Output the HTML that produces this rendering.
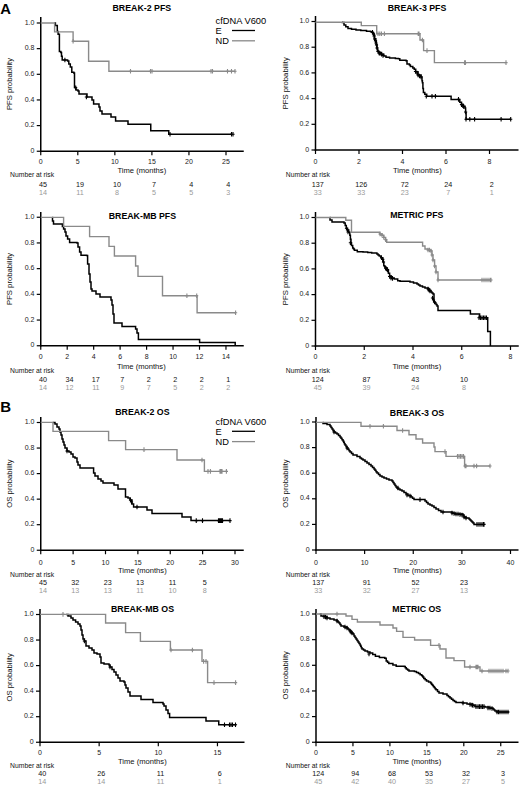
<!DOCTYPE html>
<html><head><meta charset="utf-8"><style>
html,body{margin:0;padding:0;background:#fff;}
svg{display:block;}
text{font-family:"Liberation Sans", sans-serif;}
</style></head><body>
<svg width="520" height="786" viewBox="0 0 520 786">
<rect width="520" height="786" fill="#fff"/>
<line x1="40.75" y1="17.00" x2="40.75" y2="152.00" stroke="#000" stroke-width="1.5"/>
<line x1="36.75" y1="151.25" x2="40.75" y2="151.25" stroke="#000" stroke-width="1.2"/>
<text x="34.45" y="152.87" font-size="7" text-anchor="end" font-weight="normal" fill="#222" >0</text>
<line x1="36.75" y1="125.60" x2="40.75" y2="125.60" stroke="#000" stroke-width="1.2"/>
<text x="34.45" y="127.22" font-size="7" text-anchor="end" font-weight="normal" fill="#222" >0.2</text>
<line x1="36.75" y1="99.95" x2="40.75" y2="99.95" stroke="#000" stroke-width="1.2"/>
<text x="34.45" y="101.57" font-size="7" text-anchor="end" font-weight="normal" fill="#222" >0.4</text>
<line x1="36.75" y1="74.30" x2="40.75" y2="74.30" stroke="#000" stroke-width="1.2"/>
<text x="34.45" y="75.92" font-size="7" text-anchor="end" font-weight="normal" fill="#222" >0.6</text>
<line x1="36.75" y1="48.65" x2="40.75" y2="48.65" stroke="#000" stroke-width="1.2"/>
<text x="34.45" y="50.27" font-size="7" text-anchor="end" font-weight="normal" fill="#222" >0.8</text>
<line x1="36.75" y1="23.00" x2="40.75" y2="23.00" stroke="#000" stroke-width="1.2"/>
<text x="34.45" y="24.62" font-size="7" text-anchor="end" font-weight="normal" fill="#222" >1.0</text>
<line x1="40.00" y1="151.25" x2="243.75" y2="151.25" stroke="#000" stroke-width="1.5"/>
<line x1="40.75" y1="151.25" x2="40.75" y2="155.25" stroke="#000" stroke-width="1.2"/>
<text x="40.75" y="163.82" font-size="7" text-anchor="middle" font-weight="normal" fill="#222" >0</text>
<line x1="77.80" y1="151.25" x2="77.80" y2="155.25" stroke="#000" stroke-width="1.2"/>
<text x="77.80" y="163.82" font-size="7" text-anchor="middle" font-weight="normal" fill="#222" >5</text>
<line x1="114.85" y1="151.25" x2="114.85" y2="155.25" stroke="#000" stroke-width="1.2"/>
<text x="114.85" y="163.82" font-size="7" text-anchor="middle" font-weight="normal" fill="#222" >10</text>
<line x1="151.90" y1="151.25" x2="151.90" y2="155.25" stroke="#000" stroke-width="1.2"/>
<text x="151.90" y="163.82" font-size="7" text-anchor="middle" font-weight="normal" fill="#222" >15</text>
<line x1="188.95" y1="151.25" x2="188.95" y2="155.25" stroke="#000" stroke-width="1.2"/>
<text x="188.95" y="163.82" font-size="7" text-anchor="middle" font-weight="normal" fill="#222" >20</text>
<line x1="226.00" y1="151.25" x2="226.00" y2="155.25" stroke="#000" stroke-width="1.2"/>
<text x="226.00" y="163.82" font-size="7" text-anchor="middle" font-weight="normal" fill="#222" >25</text>
<text x="117.50" y="173.44" font-size="7.6" text-anchor="start" font-weight="normal" fill="#111" >Time (months)</text>
<text transform="translate(9.30,84.00) rotate(-90)" x="0" y="2.77" font-size="7.7" text-anchor="middle" fill="#111">PFS probability</text>
<text x="141.80" y="11.17" font-size="8.8" text-anchor="middle" font-weight="bold" fill="#000" >BREAK-2 PFS</text>
<text x="10.10" y="176.94" font-size="6.78" text-anchor="start" font-weight="normal" fill="#111" >Number at risk</text>
<text x="42.95" y="187.09" font-size="7.2" text-anchor="middle" font-weight="normal" fill="#111" >45</text>
<text x="42.95" y="195.09" font-size="7.2" text-anchor="middle" font-weight="normal" fill="#999" >14</text>
<text x="80.00" y="187.09" font-size="7.2" text-anchor="middle" font-weight="normal" fill="#111" >19</text>
<text x="80.00" y="195.09" font-size="7.2" text-anchor="middle" font-weight="normal" fill="#999" >11</text>
<text x="117.05" y="187.09" font-size="7.2" text-anchor="middle" font-weight="normal" fill="#111" >10</text>
<text x="117.05" y="195.09" font-size="7.2" text-anchor="middle" font-weight="normal" fill="#999" >8</text>
<text x="154.10" y="187.09" font-size="7.2" text-anchor="middle" font-weight="normal" fill="#111" >7</text>
<text x="154.10" y="195.09" font-size="7.2" text-anchor="middle" font-weight="normal" fill="#999" >5</text>
<text x="191.15" y="187.09" font-size="7.2" text-anchor="middle" font-weight="normal" fill="#111" >4</text>
<text x="191.15" y="195.09" font-size="7.2" text-anchor="middle" font-weight="normal" fill="#999" >5</text>
<text x="228.20" y="187.09" font-size="7.2" text-anchor="middle" font-weight="normal" fill="#111" >4</text>
<text x="228.20" y="195.09" font-size="7.2" text-anchor="middle" font-weight="normal" fill="#999" >3</text>
<path d="M54.30 23.00H55.40V25.40H57.30V31.50H58.10V34.20H59.40V51.50H60.80V52.50H61.50V56.20H62.20V60.00H67.60V61.00H68.80V64.00H70.30V67.00H71.80V72.30H73.80V73.00H74.50V87.50H76.00V90.00H78.00V91.00H79.00V94.00H87.00V97.00H92.00V100.00H93.60V104.00H98.00V104.00H99.00V107.00H100.00V111.00H102.00V114.00H111.00V117.00H115.60V121.00H128.00V124.25H150.75V130.75H168.75V134.25H232.50V134.25" fill="none" stroke="#000" stroke-width="1.5" stroke-linejoin="miter" stroke-linecap="butt"/>
<path d="M64.90 57.70V62.30M63.30 60.00H66.50M75.70 85.40V90.00M74.10 87.70H77.30M86.40 94.70V99.30M84.80 97.00H88.00M170.00 131.95V136.55M168.40 134.25H171.60M231.50 131.95V136.55M229.90 134.25H233.10M233.00 131.95V136.55M231.40 134.25H234.60" fill="none" stroke="#000" stroke-width="1.1"/>
<path d="M40.75 23.00H54.60V31.90H73.10V41.30H88.60V61.20H108.90V71.20H235.00V71.20" fill="none" stroke="#8a8a8a" stroke-width="1.4" stroke-linejoin="miter" stroke-linecap="butt"/>
<path d="M73.10 39.00V43.60M71.50 41.30H74.70M130.50 68.90V73.50M128.90 71.20H132.10M150.50 68.90V73.50M148.90 71.20H152.10M152.00 68.90V73.50M150.40 71.20H153.60M211.00 68.90V73.50M209.40 71.20H212.60M212.50 68.90V73.50M210.90 71.20H214.10M227.50 68.90V73.50M225.90 71.20H229.10M231.50 68.90V73.50M229.90 71.20H233.10M235.00 68.90V73.50M233.40 71.20H236.60" fill="none" stroke="#8a8a8a" stroke-width="1.1"/>
<line x1="315.50" y1="16.00" x2="315.50" y2="150.75" stroke="#000" stroke-width="1.5"/>
<line x1="311.50" y1="150.00" x2="315.50" y2="150.00" stroke="#000" stroke-width="1.2"/>
<text x="309.20" y="151.62" font-size="7" text-anchor="end" font-weight="normal" fill="#222" >0</text>
<line x1="311.50" y1="124.30" x2="315.50" y2="124.30" stroke="#000" stroke-width="1.2"/>
<text x="309.20" y="125.92" font-size="7" text-anchor="end" font-weight="normal" fill="#222" >0.2</text>
<line x1="311.50" y1="98.60" x2="315.50" y2="98.60" stroke="#000" stroke-width="1.2"/>
<text x="309.20" y="100.22" font-size="7" text-anchor="end" font-weight="normal" fill="#222" >0.4</text>
<line x1="311.50" y1="72.90" x2="315.50" y2="72.90" stroke="#000" stroke-width="1.2"/>
<text x="309.20" y="74.52" font-size="7" text-anchor="end" font-weight="normal" fill="#222" >0.6</text>
<line x1="311.50" y1="47.20" x2="315.50" y2="47.20" stroke="#000" stroke-width="1.2"/>
<text x="309.20" y="48.82" font-size="7" text-anchor="end" font-weight="normal" fill="#222" >0.8</text>
<line x1="311.50" y1="21.50" x2="315.50" y2="21.50" stroke="#000" stroke-width="1.2"/>
<text x="309.20" y="23.12" font-size="7" text-anchor="end" font-weight="normal" fill="#222" >1.0</text>
<line x1="314.75" y1="150.00" x2="518.50" y2="150.00" stroke="#000" stroke-width="1.5"/>
<line x1="315.50" y1="150.00" x2="315.50" y2="154.00" stroke="#000" stroke-width="1.2"/>
<text x="315.50" y="163.82" font-size="7" text-anchor="middle" font-weight="normal" fill="#222" >0</text>
<line x1="359.00" y1="150.00" x2="359.00" y2="154.00" stroke="#000" stroke-width="1.2"/>
<text x="359.00" y="163.82" font-size="7" text-anchor="middle" font-weight="normal" fill="#222" >2</text>
<line x1="402.50" y1="150.00" x2="402.50" y2="154.00" stroke="#000" stroke-width="1.2"/>
<text x="402.50" y="163.82" font-size="7" text-anchor="middle" font-weight="normal" fill="#222" >4</text>
<line x1="446.00" y1="150.00" x2="446.00" y2="154.00" stroke="#000" stroke-width="1.2"/>
<text x="446.00" y="163.82" font-size="7" text-anchor="middle" font-weight="normal" fill="#222" >6</text>
<line x1="489.50" y1="150.00" x2="489.50" y2="154.00" stroke="#000" stroke-width="1.2"/>
<text x="489.50" y="163.82" font-size="7" text-anchor="middle" font-weight="normal" fill="#222" >8</text>
<text x="393.00" y="173.04" font-size="7.6" text-anchor="start" font-weight="normal" fill="#111" >Time (months)</text>
<text transform="translate(285.50,83.30) rotate(-90)" x="0" y="2.77" font-size="7.7" text-anchor="middle" fill="#111">PFS probability</text>
<text x="417.00" y="11.37" font-size="8.8" text-anchor="middle" font-weight="bold" fill="#000" >BREAK-3 PFS</text>
<text x="285.85" y="176.94" font-size="6.78" text-anchor="start" font-weight="normal" fill="#111" >Number at risk</text>
<text x="317.70" y="187.09" font-size="7.2" text-anchor="middle" font-weight="normal" fill="#111" >137</text>
<text x="317.70" y="195.09" font-size="7.2" text-anchor="middle" font-weight="normal" fill="#999" >33</text>
<text x="361.20" y="187.09" font-size="7.2" text-anchor="middle" font-weight="normal" fill="#111" >126</text>
<text x="361.20" y="195.09" font-size="7.2" text-anchor="middle" font-weight="normal" fill="#999" >33</text>
<text x="404.70" y="187.09" font-size="7.2" text-anchor="middle" font-weight="normal" fill="#111" >72</text>
<text x="404.70" y="195.09" font-size="7.2" text-anchor="middle" font-weight="normal" fill="#999" >23</text>
<text x="448.20" y="187.09" font-size="7.2" text-anchor="middle" font-weight="normal" fill="#111" >24</text>
<text x="448.20" y="195.09" font-size="7.2" text-anchor="middle" font-weight="normal" fill="#999" >7</text>
<text x="491.70" y="187.09" font-size="7.2" text-anchor="middle" font-weight="normal" fill="#111" >2</text>
<text x="491.70" y="195.09" font-size="7.2" text-anchor="middle" font-weight="normal" fill="#999" >1</text>
<path d="M342.00 22.20H342.30V22.60H344.00V24.90H345.80V26.70H348.00V28.40H351.50V29.30H356.00V29.90H360.80V30.50H366.50V31.30H370.60V31.80H372.30V32.40H373.40V33.60H374.00V35.30H374.60V38.80H375.80V41.00H376.30V44.50H377.00V48.00H377.50V50.90H378.60V52.60H381.50V54.30H383.80V56.00H386.00V57.20H389.60V58.10H395.40V58.60H398.40V58.70H399.80V60.20H406.00V60.70H407.00V64.00H409.40V65.00H410.40V66.40H412.80V67.90H414.20V69.30H415.70V71.70H418.00V75.00H421.00V77.00H422.00V80.80H422.40V82.80H422.90V88.50H423.40V92.40H424.80V94.30H426.70V96.30H451.10V99.40H459.80V102.30H461.50V104.60H463.30V106.30H465.00V108.00H465.60V112.70H466.10V119.20H511.00V119.20" fill="none" stroke="#000" stroke-width="1.5" stroke-linejoin="miter" stroke-linecap="butt"/>
<path d="M372.50 30.10V34.70M370.90 32.40H374.10M373.50 31.70V36.30M371.90 34.00H375.10M374.00 33.70V38.30M372.40 36.00H375.60M374.60 36.70V41.30M373.00 39.00H376.20M375.50 38.70V43.30M373.90 41.00H377.10M376.00 40.70V45.30M374.40 43.00H377.60M376.50 42.70V47.30M374.90 45.00H378.10M377.00 45.70V50.30M375.40 48.00H378.60M378.00 49.20V53.80M376.40 51.50H379.60M379.00 50.70V55.30M377.40 53.00H380.60M380.00 51.20V55.80M378.40 53.50H381.60M381.50 52.00V56.60M379.90 54.30H383.10M383.00 53.20V57.80M381.40 55.50H384.60M415.50 69.20V73.80M413.90 71.50H417.10M417.00 70.70V75.30M415.40 73.00H418.60M418.00 72.70V77.30M416.40 75.00H419.60M419.50 73.70V78.30M417.90 76.00H421.10M421.00 74.70V79.30M419.40 77.00H422.60M426.30 94.00V98.60M424.70 96.30H427.90M432.00 94.00V98.60M430.40 96.30H433.60M435.40 94.00V98.60M433.80 96.30H437.00M458.50 97.10V101.70M456.90 99.40H460.10M461.50 102.30V106.90M459.90 104.60H463.10M462.80 103.50V108.10M461.20 105.80H464.40M463.80 104.50V109.10M462.20 106.80H465.40M465.60 109.70V114.30M464.00 112.00H467.20M466.00 116.90V121.50M464.40 119.20H467.60M469.80 116.90V121.50M468.20 119.20H471.40M474.60 116.90V121.50M473.00 119.20H476.20M501.10 116.90V121.50M499.50 119.20H502.70M510.70 116.90V121.50M509.10 119.20H512.30" fill="none" stroke="#000" stroke-width="1.1"/>
<path d="M315.50 22.20H361.30V25.60H376.70V33.80H420.00V40.00H423.60V50.60H434.40V62.60H506.00V62.60" fill="none" stroke="#8a8a8a" stroke-width="1.4" stroke-linejoin="miter" stroke-linecap="butt"/>
<path d="M378.00 31.50V36.10M376.40 33.80H379.60M379.80 31.50V36.10M378.20 33.80H381.40M381.50 31.50V36.10M379.90 33.80H383.10M384.40 31.50V36.10M382.80 33.80H386.00M418.20 31.50V36.10M416.60 33.80H419.80M419.00 31.50V36.10M417.40 33.80H420.60M422.40 37.70V42.30M420.80 40.00H424.00M427.00 48.30V52.90M425.40 50.60H428.60M464.60 60.30V64.90M463.00 62.60H466.20M465.40 60.30V64.90M463.80 62.60H467.00M506.00 60.30V64.90M504.40 62.60H507.60" fill="none" stroke="#8a8a8a" stroke-width="1.1"/>
<line x1="40.75" y1="212.00" x2="40.75" y2="346.50" stroke="#000" stroke-width="1.5"/>
<line x1="36.75" y1="345.75" x2="40.75" y2="345.75" stroke="#000" stroke-width="1.2"/>
<text x="34.45" y="347.37" font-size="7" text-anchor="end" font-weight="normal" fill="#222" >0</text>
<line x1="36.75" y1="320.05" x2="40.75" y2="320.05" stroke="#000" stroke-width="1.2"/>
<text x="34.45" y="321.67" font-size="7" text-anchor="end" font-weight="normal" fill="#222" >0.2</text>
<line x1="36.75" y1="294.35" x2="40.75" y2="294.35" stroke="#000" stroke-width="1.2"/>
<text x="34.45" y="295.97" font-size="7" text-anchor="end" font-weight="normal" fill="#222" >0.4</text>
<line x1="36.75" y1="268.65" x2="40.75" y2="268.65" stroke="#000" stroke-width="1.2"/>
<text x="34.45" y="270.27" font-size="7" text-anchor="end" font-weight="normal" fill="#222" >0.6</text>
<line x1="36.75" y1="242.95" x2="40.75" y2="242.95" stroke="#000" stroke-width="1.2"/>
<text x="34.45" y="244.57" font-size="7" text-anchor="end" font-weight="normal" fill="#222" >0.8</text>
<line x1="36.75" y1="217.25" x2="40.75" y2="217.25" stroke="#000" stroke-width="1.2"/>
<text x="34.45" y="218.87" font-size="7" text-anchor="end" font-weight="normal" fill="#222" >1.0</text>
<line x1="40.00" y1="345.75" x2="243.75" y2="345.75" stroke="#000" stroke-width="1.5"/>
<line x1="40.75" y1="345.75" x2="40.75" y2="349.75" stroke="#000" stroke-width="1.2"/>
<text x="40.75" y="358.62" font-size="7" text-anchor="middle" font-weight="normal" fill="#222" >0</text>
<line x1="67.21" y1="345.75" x2="67.21" y2="349.75" stroke="#000" stroke-width="1.2"/>
<text x="67.21" y="358.62" font-size="7" text-anchor="middle" font-weight="normal" fill="#222" >2</text>
<line x1="93.67" y1="345.75" x2="93.67" y2="349.75" stroke="#000" stroke-width="1.2"/>
<text x="93.67" y="358.62" font-size="7" text-anchor="middle" font-weight="normal" fill="#222" >4</text>
<line x1="120.13" y1="345.75" x2="120.13" y2="349.75" stroke="#000" stroke-width="1.2"/>
<text x="120.13" y="358.62" font-size="7" text-anchor="middle" font-weight="normal" fill="#222" >6</text>
<line x1="146.59" y1="345.75" x2="146.59" y2="349.75" stroke="#000" stroke-width="1.2"/>
<text x="146.59" y="358.62" font-size="7" text-anchor="middle" font-weight="normal" fill="#222" >8</text>
<line x1="173.05" y1="345.75" x2="173.05" y2="349.75" stroke="#000" stroke-width="1.2"/>
<text x="173.05" y="358.62" font-size="7" text-anchor="middle" font-weight="normal" fill="#222" >10</text>
<line x1="199.51" y1="345.75" x2="199.51" y2="349.75" stroke="#000" stroke-width="1.2"/>
<text x="199.51" y="358.62" font-size="7" text-anchor="middle" font-weight="normal" fill="#222" >12</text>
<line x1="225.97" y1="345.75" x2="225.97" y2="349.75" stroke="#000" stroke-width="1.2"/>
<text x="225.97" y="358.62" font-size="7" text-anchor="middle" font-weight="normal" fill="#222" >14</text>
<text x="117.00" y="368.99" font-size="7.6" text-anchor="start" font-weight="normal" fill="#111" >Time (months)</text>
<text transform="translate(9.20,278.90) rotate(-90)" x="0" y="2.77" font-size="7.7" text-anchor="middle" fill="#111">PFS probability</text>
<text x="142.40" y="218.57" font-size="8.8" text-anchor="middle" font-weight="bold" fill="#000" >BREAK-MB PFS</text>
<text x="10.10" y="373.04" font-size="6.78" text-anchor="start" font-weight="normal" fill="#111" >Number at risk</text>
<text x="42.95" y="381.59" font-size="7.2" text-anchor="middle" font-weight="normal" fill="#111" >40</text>
<text x="42.95" y="389.89" font-size="7.2" text-anchor="middle" font-weight="normal" fill="#999" >14</text>
<text x="69.41" y="381.59" font-size="7.2" text-anchor="middle" font-weight="normal" fill="#111" >34</text>
<text x="69.41" y="389.89" font-size="7.2" text-anchor="middle" font-weight="normal" fill="#999" >12</text>
<text x="95.87" y="381.59" font-size="7.2" text-anchor="middle" font-weight="normal" fill="#111" >17</text>
<text x="95.87" y="389.89" font-size="7.2" text-anchor="middle" font-weight="normal" fill="#999" >11</text>
<text x="122.33" y="381.59" font-size="7.2" text-anchor="middle" font-weight="normal" fill="#111" >7</text>
<text x="122.33" y="389.89" font-size="7.2" text-anchor="middle" font-weight="normal" fill="#999" >9</text>
<text x="148.79" y="381.59" font-size="7.2" text-anchor="middle" font-weight="normal" fill="#111" >2</text>
<text x="148.79" y="389.89" font-size="7.2" text-anchor="middle" font-weight="normal" fill="#999" >7</text>
<text x="175.25" y="381.59" font-size="7.2" text-anchor="middle" font-weight="normal" fill="#111" >2</text>
<text x="175.25" y="389.89" font-size="7.2" text-anchor="middle" font-weight="normal" fill="#999" >5</text>
<text x="201.71" y="381.59" font-size="7.2" text-anchor="middle" font-weight="normal" fill="#111" >2</text>
<text x="201.71" y="389.89" font-size="7.2" text-anchor="middle" font-weight="normal" fill="#999" >2</text>
<text x="228.17" y="381.59" font-size="7.2" text-anchor="middle" font-weight="normal" fill="#111" >1</text>
<text x="228.17" y="389.89" font-size="7.2" text-anchor="middle" font-weight="normal" fill="#999" >2</text>
<path d="M52.20 217.40H52.50V221.00H53.50V224.00H62.40V226.50H63.60V229.00H65.00V232.00H66.00V236.00H67.60V239.00H69.60V242.50H77.00V243.00H78.00V247.00H79.60V252.00H81.00V255.30H86.60V255.50H87.60V264.00H89.00V274.00H90.00V282.00H91.00V289.00H92.00V291.00H96.00V294.00H100.00V297.00H111.00V300.00H112.00V305.00H113.00V314.00H114.00V323.00H122.00V326.40H134.00V326.40H135.60V329.00H137.00V333.00H138.40V339.60H199.60V342.50H235.20V345.75" fill="none" stroke="#000" stroke-width="1.5" stroke-linejoin="miter" stroke-linecap="butt"/>
<path d="M40.75 217.40H63.60V226.40H89.60V236.60H109.00V246.40H114.40V256.00H135.60V266.00H138.00V276.40H162.50V295.80H197.10V312.70H235.60V312.70" fill="none" stroke="#8a8a8a" stroke-width="1.4" stroke-linejoin="miter" stroke-linecap="butt"/>
<path d="M186.90 293.50V298.10M185.30 295.80H188.50M196.70 293.50V298.10M195.10 295.80H198.30M235.60 310.40V315.00M234.00 312.70H237.20" fill="none" stroke="#8a8a8a" stroke-width="1.1"/>
<line x1="315.50" y1="212.00" x2="315.50" y2="346.75" stroke="#000" stroke-width="1.5"/>
<line x1="311.50" y1="346.00" x2="315.50" y2="346.00" stroke="#000" stroke-width="1.2"/>
<text x="309.20" y="347.62" font-size="7" text-anchor="end" font-weight="normal" fill="#222" >0</text>
<line x1="311.50" y1="320.30" x2="315.50" y2="320.30" stroke="#000" stroke-width="1.2"/>
<text x="309.20" y="321.92" font-size="7" text-anchor="end" font-weight="normal" fill="#222" >0.2</text>
<line x1="311.50" y1="294.60" x2="315.50" y2="294.60" stroke="#000" stroke-width="1.2"/>
<text x="309.20" y="296.22" font-size="7" text-anchor="end" font-weight="normal" fill="#222" >0.4</text>
<line x1="311.50" y1="268.90" x2="315.50" y2="268.90" stroke="#000" stroke-width="1.2"/>
<text x="309.20" y="270.52" font-size="7" text-anchor="end" font-weight="normal" fill="#222" >0.6</text>
<line x1="311.50" y1="243.20" x2="315.50" y2="243.20" stroke="#000" stroke-width="1.2"/>
<text x="309.20" y="244.82" font-size="7" text-anchor="end" font-weight="normal" fill="#222" >0.8</text>
<line x1="311.50" y1="217.50" x2="315.50" y2="217.50" stroke="#000" stroke-width="1.2"/>
<text x="309.20" y="219.12" font-size="7" text-anchor="end" font-weight="normal" fill="#222" >1.0</text>
<line x1="314.75" y1="346.00" x2="518.75" y2="346.00" stroke="#000" stroke-width="1.5"/>
<line x1="315.50" y1="346.00" x2="315.50" y2="350.00" stroke="#000" stroke-width="1.2"/>
<text x="315.50" y="358.62" font-size="7" text-anchor="middle" font-weight="normal" fill="#222" >0</text>
<line x1="364.25" y1="346.00" x2="364.25" y2="350.00" stroke="#000" stroke-width="1.2"/>
<text x="364.25" y="358.62" font-size="7" text-anchor="middle" font-weight="normal" fill="#222" >2</text>
<line x1="413.00" y1="346.00" x2="413.00" y2="350.00" stroke="#000" stroke-width="1.2"/>
<text x="413.00" y="358.62" font-size="7" text-anchor="middle" font-weight="normal" fill="#222" >4</text>
<line x1="461.75" y1="346.00" x2="461.75" y2="350.00" stroke="#000" stroke-width="1.2"/>
<text x="461.75" y="358.62" font-size="7" text-anchor="middle" font-weight="normal" fill="#222" >6</text>
<line x1="510.50" y1="346.00" x2="510.50" y2="350.00" stroke="#000" stroke-width="1.2"/>
<text x="510.50" y="358.62" font-size="7" text-anchor="middle" font-weight="normal" fill="#222" >8</text>
<text x="392.50" y="368.99" font-size="7.6" text-anchor="start" font-weight="normal" fill="#111" >Time (months)</text>
<text transform="translate(285.50,279.10) rotate(-90)" x="0" y="2.77" font-size="7.7" text-anchor="middle" fill="#111">PFS probability</text>
<text x="416.80" y="218.17" font-size="8.8" text-anchor="middle" font-weight="bold" fill="#000" >METRIC PFS</text>
<text x="285.85" y="373.04" font-size="6.78" text-anchor="start" font-weight="normal" fill="#111" >Number at risk</text>
<text x="317.70" y="381.59" font-size="7.2" text-anchor="middle" font-weight="normal" fill="#111" >124</text>
<text x="317.70" y="389.89" font-size="7.2" text-anchor="middle" font-weight="normal" fill="#999" >45</text>
<text x="366.45" y="381.59" font-size="7.2" text-anchor="middle" font-weight="normal" fill="#111" >87</text>
<text x="366.45" y="389.89" font-size="7.2" text-anchor="middle" font-weight="normal" fill="#999" >39</text>
<text x="415.20" y="381.59" font-size="7.2" text-anchor="middle" font-weight="normal" fill="#111" >43</text>
<text x="415.20" y="389.89" font-size="7.2" text-anchor="middle" font-weight="normal" fill="#999" >24</text>
<text x="463.95" y="381.59" font-size="7.2" text-anchor="middle" font-weight="normal" fill="#111" >10</text>
<text x="463.95" y="389.89" font-size="7.2" text-anchor="middle" font-weight="normal" fill="#999" >8</text>
<path d="M329.70 217.50H330.00V220.00H332.00V221.90H344.00V223.10H345.20V225.40H346.30V228.30H347.50V230.00H348.70V232.30H349.80V235.20H350.40V239.20H351.00V242.70H351.50V245.60H352.70V247.90H353.55V249.05H354.40V250.20H357.30V251.70H363.00V251.90H367.70V252.50H371.70V253.10H376.90V254.00H378.05V255.00H379.20V256.00H380.90V257.70H382.70V259.40H383.30V262.30H383.80V265.70H384.70V266.90H385.60V268.10H387.30V269.80H388.40V273.20H389.60V276.10H391.30V277.90H394.20V279.00H397.70V280.70H400.00V281.30H410.00V282.00H413.50V283.00H417.00V284.00H418.50V285.00H420.00V286.00H422.50V287.00H425.00V288.00H428.00V289.00H429.50V290.50H431.00V292.00H432.00V293.00H433.00V294.00H434.00V302.00H435.00V303.00H436.00V304.50H437.00V306.00H438.00V310.40H470.40V314.00H479.60V317.70H487.70V331.50H490.40V346.00" fill="none" stroke="#000" stroke-width="1.5" stroke-linejoin="miter" stroke-linecap="butt"/>
<path d="M346.50 226.00V230.60M344.90 228.30H348.10M347.50 227.70V232.30M345.90 230.00H349.10M348.00 229.70V234.30M346.40 232.00H349.60M350.40 240.40V245.00M348.80 242.70H352.00M381.50 255.40V260.00M379.90 257.70H383.10M382.70 257.10V261.70M381.10 259.40H384.30M383.50 259.70V264.30M381.90 262.00H385.10M385.60 265.80V270.40M384.00 268.10H387.20M386.50 266.70V271.30M384.90 269.00H388.10M387.50 267.70V272.30M385.90 270.00H389.10M389.60 274.20V278.80M388.00 276.50H391.20M391.00 275.60V280.20M389.40 277.90H392.60M392.50 276.10V280.70M390.90 278.40H394.10M428.00 286.70V291.30M426.40 289.00H429.60M429.00 287.70V292.30M427.40 290.00H430.60M430.00 288.70V293.30M428.40 291.00H431.60M432.50 295.70V300.30M430.90 298.00H434.10M433.50 297.70V302.30M431.90 300.00H435.10M434.50 299.70V304.30M432.90 302.00H436.10M479.00 315.40V320.00M477.40 317.70H480.60M480.50 315.40V320.00M478.90 317.70H482.10M482.00 315.40V320.00M480.40 317.70H483.60M483.50 315.40V320.00M481.90 317.70H485.10M485.00 315.40V320.00M483.40 317.70H486.60M486.50 315.40V320.00M484.90 317.70H488.10" fill="none" stroke="#000" stroke-width="1.1"/>
<path d="M315.50 217.50H345.80V220.20H351.50V232.30H378.60V232.30H379.80V234.00H382.10V235.20H383.80V237.50H385.60V239.80H386.70V242.30H422.60V246.00H425.00V249.00H428.00V250.00H431.00V251.00H432.00V255.00H433.00V260.00H434.60V266.00H436.00V272.00H438.00V280.00H491.00V280.00" fill="none" stroke="#8a8a8a" stroke-width="1.4" stroke-linejoin="miter" stroke-linecap="butt"/>
<path d="M380.00 231.70V236.30M378.40 234.00H381.60M382.00 232.90V237.50M380.40 235.20H383.60M383.80 235.20V239.80M382.20 237.50H385.40M385.60 237.50V242.10M384.00 239.80H387.20M428.00 247.70V252.30M426.40 250.00H429.60M429.50 247.70V252.30M427.90 250.00H431.10M431.00 248.70V253.30M429.40 251.00H432.60M432.00 252.70V257.30M430.40 255.00H433.60M433.00 257.70V262.30M431.40 260.00H434.60M434.60 263.70V268.30M433.00 266.00H436.20M436.00 269.70V274.30M434.40 272.00H437.60M438.00 277.70V282.30M436.40 280.00H439.60M482.00 277.70V282.30M480.40 280.00H483.60M484.00 277.70V282.30M482.40 280.00H485.60M486.00 277.70V282.30M484.40 280.00H487.60M488.00 277.70V282.30M486.40 280.00H489.60M490.00 277.70V282.30M488.40 280.00H491.60M491.00 277.70V282.30M489.40 280.00H492.60" fill="none" stroke="#8a8a8a" stroke-width="1.1"/>
<line x1="40.75" y1="417.00" x2="40.75" y2="551.00" stroke="#000" stroke-width="1.5"/>
<line x1="36.75" y1="550.25" x2="40.75" y2="550.25" stroke="#000" stroke-width="1.2"/>
<text x="34.45" y="551.87" font-size="7" text-anchor="end" font-weight="normal" fill="#222" >0</text>
<line x1="36.75" y1="524.70" x2="40.75" y2="524.70" stroke="#000" stroke-width="1.2"/>
<text x="34.45" y="526.32" font-size="7" text-anchor="end" font-weight="normal" fill="#222" >0.2</text>
<line x1="36.75" y1="499.15" x2="40.75" y2="499.15" stroke="#000" stroke-width="1.2"/>
<text x="34.45" y="500.77" font-size="7" text-anchor="end" font-weight="normal" fill="#222" >0.4</text>
<line x1="36.75" y1="473.60" x2="40.75" y2="473.60" stroke="#000" stroke-width="1.2"/>
<text x="34.45" y="475.22" font-size="7" text-anchor="end" font-weight="normal" fill="#222" >0.6</text>
<line x1="36.75" y1="448.05" x2="40.75" y2="448.05" stroke="#000" stroke-width="1.2"/>
<text x="34.45" y="449.67" font-size="7" text-anchor="end" font-weight="normal" fill="#222" >0.8</text>
<line x1="36.75" y1="422.50" x2="40.75" y2="422.50" stroke="#000" stroke-width="1.2"/>
<text x="34.45" y="424.12" font-size="7" text-anchor="end" font-weight="normal" fill="#222" >1.0</text>
<line x1="40.00" y1="550.25" x2="243.75" y2="550.25" stroke="#000" stroke-width="1.5"/>
<line x1="40.75" y1="550.25" x2="40.75" y2="554.25" stroke="#000" stroke-width="1.2"/>
<text x="40.75" y="564.72" font-size="7" text-anchor="middle" font-weight="normal" fill="#222" >0</text>
<line x1="73.12" y1="550.25" x2="73.12" y2="554.25" stroke="#000" stroke-width="1.2"/>
<text x="73.12" y="564.72" font-size="7" text-anchor="middle" font-weight="normal" fill="#222" >5</text>
<line x1="105.50" y1="550.25" x2="105.50" y2="554.25" stroke="#000" stroke-width="1.2"/>
<text x="105.50" y="564.72" font-size="7" text-anchor="middle" font-weight="normal" fill="#222" >10</text>
<line x1="137.88" y1="550.25" x2="137.88" y2="554.25" stroke="#000" stroke-width="1.2"/>
<text x="137.88" y="564.72" font-size="7" text-anchor="middle" font-weight="normal" fill="#222" >15</text>
<line x1="170.25" y1="550.25" x2="170.25" y2="554.25" stroke="#000" stroke-width="1.2"/>
<text x="170.25" y="564.72" font-size="7" text-anchor="middle" font-weight="normal" fill="#222" >20</text>
<line x1="202.62" y1="550.25" x2="202.62" y2="554.25" stroke="#000" stroke-width="1.2"/>
<text x="202.62" y="564.72" font-size="7" text-anchor="middle" font-weight="normal" fill="#222" >25</text>
<line x1="235.00" y1="550.25" x2="235.00" y2="554.25" stroke="#000" stroke-width="1.2"/>
<text x="235.00" y="564.72" font-size="7" text-anchor="middle" font-weight="normal" fill="#222" >30</text>
<text x="118.00" y="572.74" font-size="7.6" text-anchor="start" font-weight="normal" fill="#111" >Time (months)</text>
<text transform="translate(9.20,483.50) rotate(-90)" x="0" y="2.77" font-size="7.7" text-anchor="middle" fill="#111">OS probability</text>
<text x="142.40" y="415.17" font-size="8.8" text-anchor="middle" font-weight="bold" fill="#000" >BREAK-2 OS</text>
<text x="10.10" y="577.04" font-size="6.78" text-anchor="start" font-weight="normal" fill="#111" >Number at risk</text>
<text x="42.95" y="585.09" font-size="7.2" text-anchor="middle" font-weight="normal" fill="#111" >45</text>
<text x="42.95" y="592.99" font-size="7.2" text-anchor="middle" font-weight="normal" fill="#999" >14</text>
<text x="75.33" y="585.09" font-size="7.2" text-anchor="middle" font-weight="normal" fill="#111" >32</text>
<text x="75.33" y="592.99" font-size="7.2" text-anchor="middle" font-weight="normal" fill="#999" >13</text>
<text x="107.70" y="585.09" font-size="7.2" text-anchor="middle" font-weight="normal" fill="#111" >23</text>
<text x="107.70" y="592.99" font-size="7.2" text-anchor="middle" font-weight="normal" fill="#999" >13</text>
<text x="140.07" y="585.09" font-size="7.2" text-anchor="middle" font-weight="normal" fill="#111" >13</text>
<text x="140.07" y="592.99" font-size="7.2" text-anchor="middle" font-weight="normal" fill="#999" >11</text>
<text x="172.45" y="585.09" font-size="7.2" text-anchor="middle" font-weight="normal" fill="#111" >11</text>
<text x="172.45" y="592.99" font-size="7.2" text-anchor="middle" font-weight="normal" fill="#999" >10</text>
<text x="204.82" y="585.09" font-size="7.2" text-anchor="middle" font-weight="normal" fill="#111" >5</text>
<text x="204.82" y="592.99" font-size="7.2" text-anchor="middle" font-weight="normal" fill="#999" >8</text>
<path d="M52.70 422.40H55.00V424.00H57.00V427.00H59.00V429.00H60.00V432.00H61.00V435.00H62.00V439.00H63.00V442.00H64.00V445.00H65.00V448.00H67.00V451.00H69.00V452.00H71.00V454.00H73.00V457.00H75.00V458.00H77.00V462.00H78.00V465.00H80.00V468.00H93.60V473.00H95.00V476.00H98.00V479.00H101.00V481.00H103.00V483.00H114.00V485.00H118.00V489.00H125.50V497.00H128.00V498.00H130.00V500.00H132.00V504.00H133.60V507.00H147.00V510.00H152.00V513.60H182.00V517.00H191.00V520.60H230.00V520.60" fill="none" stroke="#000" stroke-width="1.5" stroke-linejoin="miter" stroke-linecap="butt"/>
<path d="M67.00 448.70V453.30M65.40 451.00H68.60M130.50 497.70V502.30M128.90 500.00H132.10M131.50 499.70V504.30M129.90 502.00H133.10M137.00 504.70V509.30M135.40 507.00H138.60M196.25 518.30V522.90M194.65 520.60H197.85M202.50 518.30V522.90M200.90 520.60H204.10M218.50 518.30V522.90M216.90 520.60H220.10M219.50 518.30V522.90M217.90 520.60H221.10M220.50 518.30V522.90M218.90 520.60H222.10M221.50 518.30V522.90M219.90 520.60H223.10M222.50 518.30V522.90M220.90 520.60H224.10M230.00 518.30V522.90M228.40 520.60H231.60" fill="none" stroke="#000" stroke-width="1.1"/>
<path d="M40.75 422.40H53.00V431.40H108.60V440.60H125.60V449.60H177.00V460.00H204.40V471.40H227.00V471.40" fill="none" stroke="#8a8a8a" stroke-width="1.4" stroke-linejoin="miter" stroke-linecap="butt"/>
<path d="M144.00 447.30V451.90M142.40 449.60H145.60M202.00 457.70V462.30M200.40 460.00H203.60M208.00 469.10V473.70M206.40 471.40H209.60M210.40 469.10V473.70M208.80 471.40H212.00M220.00 469.10V473.70M218.40 471.40H221.60M221.00 469.10V473.70M219.40 471.40H222.60M222.00 469.10V473.70M220.40 471.40H223.60M226.40 469.10V473.70M224.80 471.40H228.00" fill="none" stroke="#8a8a8a" stroke-width="1.1"/>
<line x1="316.00" y1="417.00" x2="316.00" y2="550.75" stroke="#000" stroke-width="1.5"/>
<line x1="312.00" y1="550.00" x2="316.00" y2="550.00" stroke="#000" stroke-width="1.2"/>
<text x="309.70" y="551.62" font-size="7" text-anchor="end" font-weight="normal" fill="#222" >0</text>
<line x1="312.00" y1="524.40" x2="316.00" y2="524.40" stroke="#000" stroke-width="1.2"/>
<text x="309.70" y="526.02" font-size="7" text-anchor="end" font-weight="normal" fill="#222" >0.2</text>
<line x1="312.00" y1="498.80" x2="316.00" y2="498.80" stroke="#000" stroke-width="1.2"/>
<text x="309.70" y="500.42" font-size="7" text-anchor="end" font-weight="normal" fill="#222" >0.4</text>
<line x1="312.00" y1="473.20" x2="316.00" y2="473.20" stroke="#000" stroke-width="1.2"/>
<text x="309.70" y="474.82" font-size="7" text-anchor="end" font-weight="normal" fill="#222" >0.6</text>
<line x1="312.00" y1="447.60" x2="316.00" y2="447.60" stroke="#000" stroke-width="1.2"/>
<text x="309.70" y="449.22" font-size="7" text-anchor="end" font-weight="normal" fill="#222" >0.8</text>
<line x1="312.00" y1="422.00" x2="316.00" y2="422.00" stroke="#000" stroke-width="1.2"/>
<text x="309.70" y="423.62" font-size="7" text-anchor="end" font-weight="normal" fill="#222" >1.0</text>
<line x1="315.25" y1="550.00" x2="518.50" y2="550.00" stroke="#000" stroke-width="1.5"/>
<line x1="316.00" y1="550.00" x2="316.00" y2="554.00" stroke="#000" stroke-width="1.2"/>
<text x="316.00" y="564.72" font-size="7" text-anchor="middle" font-weight="normal" fill="#222" >0</text>
<line x1="364.62" y1="550.00" x2="364.62" y2="554.00" stroke="#000" stroke-width="1.2"/>
<text x="364.62" y="564.72" font-size="7" text-anchor="middle" font-weight="normal" fill="#222" >10</text>
<line x1="413.25" y1="550.00" x2="413.25" y2="554.00" stroke="#000" stroke-width="1.2"/>
<text x="413.25" y="564.72" font-size="7" text-anchor="middle" font-weight="normal" fill="#222" >20</text>
<line x1="461.88" y1="550.00" x2="461.88" y2="554.00" stroke="#000" stroke-width="1.2"/>
<text x="461.88" y="564.72" font-size="7" text-anchor="middle" font-weight="normal" fill="#222" >30</text>
<line x1="510.50" y1="550.00" x2="510.50" y2="554.00" stroke="#000" stroke-width="1.2"/>
<text x="510.50" y="564.72" font-size="7" text-anchor="middle" font-weight="normal" fill="#222" >40</text>
<text x="393.00" y="572.74" font-size="7.6" text-anchor="start" font-weight="normal" fill="#111" >Time (months)</text>
<text transform="translate(285.50,483.50) rotate(-90)" x="0" y="2.77" font-size="7.7" text-anchor="middle" fill="#111">OS probability</text>
<text x="417.00" y="415.67" font-size="8.8" text-anchor="middle" font-weight="bold" fill="#000" >BREAK-3 OS</text>
<text x="285.85" y="577.04" font-size="6.78" text-anchor="start" font-weight="normal" fill="#111" >Number at risk</text>
<text x="318.20" y="585.09" font-size="7.2" text-anchor="middle" font-weight="normal" fill="#111" >137</text>
<text x="318.20" y="592.99" font-size="7.2" text-anchor="middle" font-weight="normal" fill="#999" >33</text>
<text x="366.82" y="585.09" font-size="7.2" text-anchor="middle" font-weight="normal" fill="#111" >91</text>
<text x="366.82" y="592.99" font-size="7.2" text-anchor="middle" font-weight="normal" fill="#999" >32</text>
<text x="415.45" y="585.09" font-size="7.2" text-anchor="middle" font-weight="normal" fill="#111" >52</text>
<text x="415.45" y="592.99" font-size="7.2" text-anchor="middle" font-weight="normal" fill="#999" >27</text>
<text x="464.07" y="585.09" font-size="7.2" text-anchor="middle" font-weight="normal" fill="#111" >23</text>
<text x="464.07" y="592.99" font-size="7.2" text-anchor="middle" font-weight="normal" fill="#999" >13</text>
<path d="M322.70 422.40H323.00V423.40H327.00V424.50H330.00V426.00H331.00V427.50H332.00V429.00H333.00V430.50H334.00V432.00H335.50V433.00H337.00V434.00H338.50V435.50H340.00V437.00H341.00V438.33H342.00V439.67H343.00V441.00H343.67V442.33H344.33V443.67H345.00V445.00H346.00V446.50H347.00V448.00H348.00V449.33H349.00V450.67H350.00V452.00H351.50V453.50H353.00V455.00H357.00V456.60H360.00V458.00H361.50V459.00H363.00V460.00H365.00V461.50H367.00V463.00H369.00V464.50H371.00V466.00H372.50V467.50H374.00V469.00H375.00V470.33H376.00V471.67H377.00V473.00H378.50V474.50H380.00V476.00H382.00V477.00H384.00V478.00H386.50V479.00H389.00V480.00H392.00V481.00H393.00V482.50H394.00V484.00H395.00V485.50H396.00V487.00H397.00V488.00H398.00V489.00H400.00V490.00H402.00V491.00H404.00V492.50H406.00V494.00H408.00V495.60H411.00V497.00H412.50V498.30H414.00V499.60H425.00V501.00H426.50V502.50H428.00V504.00H430.00V505.00H432.00V506.00H434.00V507.50H436.00V509.00H438.50V510.50H441.00V512.00H452.00V513.00H455.00V514.00H463.00V515.00H464.00V517.00H466.00V518.00H469.00V519.00H470.00V520.00H471.00V521.00H472.00V522.00H473.00V523.00H474.00V524.40H484.00V524.40" fill="none" stroke="#000" stroke-width="1.5" stroke-linejoin="miter" stroke-linecap="butt"/>
<path d="M334.00 429.70V434.30M332.40 432.00H335.60M347.00 445.70V450.30M345.40 448.00H348.60M398.00 485.70V490.30M396.40 488.00H399.60M407.00 492.70V497.30M405.40 495.00H408.60M410.00 493.70V498.30M408.40 496.00H411.60M420.00 497.30V501.90M418.40 499.60H421.60M443.00 509.70V514.30M441.40 512.00H444.60M452.00 510.70V515.30M450.40 513.00H453.60M454.00 511.20V515.80M452.40 513.50H455.60M456.00 511.70V516.30M454.40 514.00H457.60M458.00 511.70V516.30M456.40 514.00H459.60M460.00 512.20V516.80M458.40 514.50H461.60M462.00 512.70V517.30M460.40 515.00H463.60M464.00 514.70V519.30M462.40 517.00H465.60M466.00 515.70V520.30M464.40 518.00H467.60M477.00 522.10V526.70M475.40 524.40H478.60M479.00 522.10V526.70M477.40 524.40H480.60M481.00 522.10V526.70M479.40 524.40H482.60M483.00 522.10V526.70M481.40 524.40H484.60M484.00 522.10V526.70M482.40 524.40H485.60" fill="none" stroke="#000" stroke-width="1.1"/>
<path d="M316.00 422.40H361.00V426.20H397.00V430.50H409.00V434.80H416.00V439.00H422.60V443.00H434.00V447.00H435.00V451.60H446.00V456.40H464.60V466.00H490.00V466.00" fill="none" stroke="#8a8a8a" stroke-width="1.4" stroke-linejoin="miter" stroke-linecap="butt"/>
<path d="M370.00 423.90V428.50M368.40 426.20H371.60M383.40 423.90V428.50M381.80 426.20H385.00M402.60 428.20V432.80M401.00 430.50H404.20M445.00 449.30V453.90M443.40 451.60H446.60M457.50 454.10V458.70M455.90 456.40H459.10M459.00 454.10V458.70M457.40 456.40H460.60M460.50 454.10V458.70M458.90 456.40H462.10M462.00 454.10V458.70M460.40 456.40H463.60M463.50 454.10V458.70M461.90 456.40H465.10M465.00 463.70V468.30M463.40 466.00H466.60M466.00 463.70V468.30M464.40 466.00H467.60M474.00 463.70V468.30M472.40 466.00H475.60M476.60 463.70V468.30M475.00 466.00H478.20M490.00 463.70V468.30M488.40 466.00H491.60" fill="none" stroke="#8a8a8a" stroke-width="1.1"/>
<line x1="40.00" y1="609.00" x2="40.00" y2="743.00" stroke="#000" stroke-width="1.5"/>
<line x1="36.00" y1="742.25" x2="40.00" y2="742.25" stroke="#000" stroke-width="1.2"/>
<text x="33.70" y="743.87" font-size="7" text-anchor="end" font-weight="normal" fill="#222" >0</text>
<line x1="36.00" y1="716.70" x2="40.00" y2="716.70" stroke="#000" stroke-width="1.2"/>
<text x="33.70" y="718.32" font-size="7" text-anchor="end" font-weight="normal" fill="#222" >0.2</text>
<line x1="36.00" y1="691.15" x2="40.00" y2="691.15" stroke="#000" stroke-width="1.2"/>
<text x="33.70" y="692.77" font-size="7" text-anchor="end" font-weight="normal" fill="#222" >0.4</text>
<line x1="36.00" y1="665.60" x2="40.00" y2="665.60" stroke="#000" stroke-width="1.2"/>
<text x="33.70" y="667.22" font-size="7" text-anchor="end" font-weight="normal" fill="#222" >0.6</text>
<line x1="36.00" y1="640.05" x2="40.00" y2="640.05" stroke="#000" stroke-width="1.2"/>
<text x="33.70" y="641.67" font-size="7" text-anchor="end" font-weight="normal" fill="#222" >0.8</text>
<line x1="36.00" y1="614.50" x2="40.00" y2="614.50" stroke="#000" stroke-width="1.2"/>
<text x="33.70" y="616.12" font-size="7" text-anchor="end" font-weight="normal" fill="#222" >1.0</text>
<line x1="39.25" y1="742.25" x2="244.50" y2="742.25" stroke="#000" stroke-width="1.5"/>
<line x1="40.00" y1="742.25" x2="40.00" y2="746.25" stroke="#000" stroke-width="1.2"/>
<text x="40.00" y="755.22" font-size="7" text-anchor="middle" font-weight="normal" fill="#222" >0</text>
<line x1="99.15" y1="742.25" x2="99.15" y2="746.25" stroke="#000" stroke-width="1.2"/>
<text x="99.15" y="755.22" font-size="7" text-anchor="middle" font-weight="normal" fill="#222" >5</text>
<line x1="158.30" y1="742.25" x2="158.30" y2="746.25" stroke="#000" stroke-width="1.2"/>
<text x="158.30" y="755.22" font-size="7" text-anchor="middle" font-weight="normal" fill="#222" >10</text>
<line x1="217.45" y1="742.25" x2="217.45" y2="746.25" stroke="#000" stroke-width="1.2"/>
<text x="217.45" y="755.22" font-size="7" text-anchor="middle" font-weight="normal" fill="#222" >15</text>
<text x="118.00" y="763.64" font-size="7.6" text-anchor="start" font-weight="normal" fill="#111" >Time (months)</text>
<text transform="translate(9.20,677.30) rotate(-90)" x="0" y="2.77" font-size="7.7" text-anchor="middle" fill="#111">OS probability</text>
<text x="142.50" y="612.17" font-size="8.8" text-anchor="middle" font-weight="bold" fill="#000" >BREAK-MB OS</text>
<text x="10.10" y="767.74" font-size="6.78" text-anchor="start" font-weight="normal" fill="#111" >Number at risk</text>
<text x="42.20" y="776.29" font-size="7.2" text-anchor="middle" font-weight="normal" fill="#111" >40</text>
<text x="42.20" y="783.89" font-size="7.2" text-anchor="middle" font-weight="normal" fill="#999" >14</text>
<text x="101.35" y="776.29" font-size="7.2" text-anchor="middle" font-weight="normal" fill="#111" >26</text>
<text x="101.35" y="783.89" font-size="7.2" text-anchor="middle" font-weight="normal" fill="#999" >14</text>
<text x="160.50" y="776.29" font-size="7.2" text-anchor="middle" font-weight="normal" fill="#111" >11</text>
<text x="160.50" y="783.89" font-size="7.2" text-anchor="middle" font-weight="normal" fill="#999" >11</text>
<text x="219.65" y="776.29" font-size="7.2" text-anchor="middle" font-weight="normal" fill="#111" >6</text>
<text x="219.65" y="783.89" font-size="7.2" text-anchor="middle" font-weight="normal" fill="#999" >1</text>
<path d="M66.10 614.40H66.40V614.40H68.00V616.00H71.00V618.00H73.00V620.00H75.60V622.00H78.00V624.00H80.00V626.00H81.00V630.00H82.00V635.00H83.00V639.00H84.40V641.00H86.00V646.00H89.00V648.00H92.00V650.00H94.00V653.00H97.00V654.00H100.00V657.00H101.00V663.00H104.00V664.00H109.00V665.00H110.00V667.00H112.00V669.50H114.00V672.00H116.00V675.00H118.00V678.00H120.00V681.00H124.00V682.00H125.00V685.00H126.00V688.00H128.00V692.00H130.00V696.00H141.00V699.40H153.00V702.60H163.00V704.00H164.00V706.00H166.00V710.00H168.00V713.60H169.60V717.40H206.00V721.00H218.75V724.75H236.25V724.75" fill="none" stroke="#000" stroke-width="1.5" stroke-linejoin="miter" stroke-linecap="butt"/>
<path d="M84.40 638.70V643.30M82.80 641.00H86.00M110.00 664.70V669.30M108.40 667.00H111.60M224.50 722.45V727.05M222.90 724.75H226.10M229.50 722.45V727.05M227.90 724.75H231.10M231.00 722.45V727.05M229.40 724.75H232.60M232.50 722.45V727.05M230.90 724.75H234.10M235.50 722.45V727.05M233.90 724.75H237.10" fill="none" stroke="#000" stroke-width="1.1"/>
<path d="M40.00 614.40H105.60V623.00H125.60V632.60H140.40V641.40H170.40V650.00H202.00V661.40H207.60V682.60H236.00V682.60" fill="none" stroke="#8a8a8a" stroke-width="1.4" stroke-linejoin="miter" stroke-linecap="butt"/>
<path d="M63.00 612.10V616.70M61.40 614.40H64.60M171.00 647.70V652.30M169.40 650.00H172.60M192.40 647.70V652.30M190.80 650.00H194.00M203.60 659.10V663.70M202.00 661.40H205.20M206.00 659.10V663.70M204.40 661.40H207.60M214.00 680.30V684.90M212.40 682.60H215.60M235.60 680.30V684.90M234.00 682.60H237.20" fill="none" stroke="#8a8a8a" stroke-width="1.1"/>
<line x1="316.00" y1="609.00" x2="316.00" y2="743.00" stroke="#000" stroke-width="1.5"/>
<line x1="312.00" y1="742.25" x2="316.00" y2="742.25" stroke="#000" stroke-width="1.2"/>
<text x="309.70" y="743.87" font-size="7" text-anchor="end" font-weight="normal" fill="#222" >0</text>
<line x1="312.00" y1="716.60" x2="316.00" y2="716.60" stroke="#000" stroke-width="1.2"/>
<text x="309.70" y="718.22" font-size="7" text-anchor="end" font-weight="normal" fill="#222" >0.2</text>
<line x1="312.00" y1="690.95" x2="316.00" y2="690.95" stroke="#000" stroke-width="1.2"/>
<text x="309.70" y="692.57" font-size="7" text-anchor="end" font-weight="normal" fill="#222" >0.4</text>
<line x1="312.00" y1="665.30" x2="316.00" y2="665.30" stroke="#000" stroke-width="1.2"/>
<text x="309.70" y="666.92" font-size="7" text-anchor="end" font-weight="normal" fill="#222" >0.6</text>
<line x1="312.00" y1="639.65" x2="316.00" y2="639.65" stroke="#000" stroke-width="1.2"/>
<text x="309.70" y="641.27" font-size="7" text-anchor="end" font-weight="normal" fill="#222" >0.8</text>
<line x1="312.00" y1="614.00" x2="316.00" y2="614.00" stroke="#000" stroke-width="1.2"/>
<text x="309.70" y="615.62" font-size="7" text-anchor="end" font-weight="normal" fill="#222" >1.0</text>
<line x1="315.25" y1="742.25" x2="518.50" y2="742.25" stroke="#000" stroke-width="1.5"/>
<line x1="316.00" y1="742.25" x2="316.00" y2="746.25" stroke="#000" stroke-width="1.2"/>
<text x="316.00" y="755.22" font-size="7" text-anchor="middle" font-weight="normal" fill="#222" >0</text>
<line x1="352.95" y1="742.25" x2="352.95" y2="746.25" stroke="#000" stroke-width="1.2"/>
<text x="352.95" y="755.22" font-size="7" text-anchor="middle" font-weight="normal" fill="#222" >5</text>
<line x1="389.90" y1="742.25" x2="389.90" y2="746.25" stroke="#000" stroke-width="1.2"/>
<text x="389.90" y="755.22" font-size="7" text-anchor="middle" font-weight="normal" fill="#222" >10</text>
<line x1="426.85" y1="742.25" x2="426.85" y2="746.25" stroke="#000" stroke-width="1.2"/>
<text x="426.85" y="755.22" font-size="7" text-anchor="middle" font-weight="normal" fill="#222" >15</text>
<line x1="463.80" y1="742.25" x2="463.80" y2="746.25" stroke="#000" stroke-width="1.2"/>
<text x="463.80" y="755.22" font-size="7" text-anchor="middle" font-weight="normal" fill="#222" >20</text>
<line x1="500.75" y1="742.25" x2="500.75" y2="746.25" stroke="#000" stroke-width="1.2"/>
<text x="500.75" y="755.22" font-size="7" text-anchor="middle" font-weight="normal" fill="#222" >25</text>
<text x="392.50" y="763.64" font-size="7.6" text-anchor="start" font-weight="normal" fill="#111" >Time (months)</text>
<text transform="translate(285.00,675.25) rotate(-90)" x="0" y="2.77" font-size="7.7" text-anchor="middle" fill="#111">OS probability</text>
<text x="416.75" y="612.17" font-size="8.8" text-anchor="middle" font-weight="bold" fill="#000" >METRIC OS</text>
<text x="285.85" y="767.74" font-size="6.78" text-anchor="start" font-weight="normal" fill="#111" >Number at risk</text>
<text x="318.20" y="776.29" font-size="7.2" text-anchor="middle" font-weight="normal" fill="#111" >124</text>
<text x="318.20" y="783.89" font-size="7.2" text-anchor="middle" font-weight="normal" fill="#999" >45</text>
<text x="355.15" y="776.29" font-size="7.2" text-anchor="middle" font-weight="normal" fill="#111" >94</text>
<text x="355.15" y="783.89" font-size="7.2" text-anchor="middle" font-weight="normal" fill="#999" >42</text>
<text x="392.10" y="776.29" font-size="7.2" text-anchor="middle" font-weight="normal" fill="#111" >68</text>
<text x="392.10" y="783.89" font-size="7.2" text-anchor="middle" font-weight="normal" fill="#999" >40</text>
<text x="429.05" y="776.29" font-size="7.2" text-anchor="middle" font-weight="normal" fill="#111" >53</text>
<text x="429.05" y="783.89" font-size="7.2" text-anchor="middle" font-weight="normal" fill="#999" >35</text>
<text x="466.00" y="776.29" font-size="7.2" text-anchor="middle" font-weight="normal" fill="#111" >32</text>
<text x="466.00" y="783.89" font-size="7.2" text-anchor="middle" font-weight="normal" fill="#999" >27</text>
<text x="502.95" y="776.29" font-size="7.2" text-anchor="middle" font-weight="normal" fill="#111" >3</text>
<text x="502.95" y="783.89" font-size="7.2" text-anchor="middle" font-weight="normal" fill="#999" >5</text>
<path d="M319.70 614.00H320.00V614.00H321.00V616.00H324.00V616.60H327.00V618.00H330.00V619.00H334.00V620.00H337.00V621.00H338.00V622.00H339.00V623.00H340.00V624.50H341.00V626.00H344.00V627.00H347.00V628.00H348.00V629.00H349.00V630.00H350.00V631.00H351.00V632.00H352.00V633.00H353.00V634.00H354.00V636.00H355.00V637.50H356.00V639.00H357.00V640.50H358.00V642.00H359.00V643.50H360.00V645.00H360.67V646.33H361.33V647.67H362.00V649.00H363.50V650.00H365.00V651.00H367.50V652.00H370.00V653.00H372.70V654.60H375.40V656.20H379.40V657.50H384.80V658.20H386.20V660.90H387.50V662.25H388.80V663.60H392.90V664.90H396.20V666.20H404.30V666.60H405.30V667.75H406.30V668.90H407.65V669.95H409.00V671.00H414.40V671.60H416.45V672.60H418.50V673.60H420.15V674.65H421.80V675.70H422.80V677.05H423.80V678.40H425.15V679.70H426.50V681.00H428.55V682.00H430.60V683.00H431.50V684.13H432.40V685.27H433.30V686.40H434.20V687.53H435.10V688.67H436.00V689.80H437.50V691.40H439.00V693.00H443.00V694.00H447.00V695.60H448.50V696.80H450.00V698.00H451.50V699.20H453.00V700.40H454.50V701.50H456.00V702.60H463.00V703.00H467.00V704.00H472.00V705.00H475.00V706.60H485.00V707.00H489.00V708.00H493.00V709.00H494.00V710.00H495.00V711.00H497.00V712.00H509.00V712.00" fill="none" stroke="#000" stroke-width="1.5" stroke-linejoin="miter" stroke-linecap="butt"/>
<path d="M324.00 614.30V618.90M322.40 616.60H325.60M325.50 614.70V619.30M323.90 617.00H327.10M327.00 615.70V620.30M325.40 618.00H328.60M337.00 618.70V623.30M335.40 621.00H338.60M345.00 624.70V629.30M343.40 627.00H346.60M347.00 625.70V630.30M345.40 628.00H348.60M350.00 628.70V633.30M348.40 631.00H351.60M351.00 629.70V634.30M349.40 632.00H352.60M352.00 630.70V635.30M350.40 633.00H353.60M369.00 651.70V656.30M367.40 654.00H370.60M463.00 700.70V705.30M461.40 703.00H464.60M470.00 702.20V706.80M468.40 704.50H471.60M472.00 702.70V707.30M470.40 705.00H473.60M473.00 703.20V707.80M471.40 705.50H474.60M476.00 704.30V708.90M474.40 706.60H477.60M478.00 704.30V708.90M476.40 706.60H479.60M479.50 704.30V708.90M477.90 706.60H481.10M481.00 704.30V708.90M479.40 706.60H482.60M482.50 704.30V708.90M480.90 706.60H484.10M484.00 704.30V708.90M482.40 706.60H485.60M488.00 705.70V710.30M486.40 708.00H489.60M490.00 705.70V710.30M488.40 708.00H491.60M492.00 706.20V710.80M490.40 708.50H493.60M497.00 709.70V714.30M495.40 712.00H498.60M498.50 709.70V714.30M496.90 712.00H500.10M500.00 709.70V714.30M498.40 712.00H501.60M502.00 709.70V714.30M500.40 712.00H503.60M504.00 709.70V714.30M502.40 712.00H505.60M506.00 709.70V714.30M504.40 712.00H507.60M508.00 709.70V714.30M506.40 712.00H509.60" fill="none" stroke="#000" stroke-width="1.1"/>
<path d="M316.00 614.00H346.00V616.00H352.00V619.40H357.40V622.00H380.00V625.00H393.00V628.00H396.60V631.40H403.00V637.40H414.60V640.00H430.60V645.40H440.00V649.00H446.00V658.00H454.00V660.60H464.60V667.00H480.00V671.00H508.00V671.00" fill="none" stroke="#8a8a8a" stroke-width="1.4" stroke-linejoin="miter" stroke-linecap="butt"/>
<path d="M337.00 611.70V616.30M335.40 614.00H338.60M439.00 643.10V647.70M437.40 645.40H440.60M470.00 664.70V669.30M468.40 667.00H471.60M476.00 664.70V669.30M474.40 667.00H477.60M477.00 664.70V669.30M475.40 667.00H478.60M478.00 664.70V669.30M476.40 667.00H479.60M482.00 668.70V673.30M480.40 671.00H483.60M489.00 668.70V673.30M487.40 671.00H490.60M491.00 668.70V673.30M489.40 671.00H492.60M493.00 668.70V673.30M491.40 671.00H494.60M495.00 668.70V673.30M493.40 671.00H496.60M497.00 668.70V673.30M495.40 671.00H498.60M499.00 668.70V673.30M497.40 671.00H500.60M501.00 668.70V673.30M499.40 671.00H502.60M503.00 668.70V673.30M501.40 671.00H504.60M506.00 668.70V673.30M504.40 671.00H507.60M508.00 668.70V673.30M506.40 671.00H509.60" fill="none" stroke="#8a8a8a" stroke-width="1.1"/>
<text x="0.20" y="13.63" font-size="14.8" text-anchor="start" font-weight="bold" fill="#000" >A</text>
<text x="0.20" y="412.00" font-size="15" text-anchor="start" font-weight="bold" fill="#000" >B</text>
<text x="215.50" y="24.15" font-size="9.3" text-anchor="start" font-weight="normal" fill="#000" >cfDNA V600</text>
<text x="215.50" y="33.95" font-size="9.3" text-anchor="start" font-weight="normal" fill="#000" >E</text>
<text x="215.50" y="44.25" font-size="9.3" text-anchor="start" font-weight="normal" fill="#000" >ND</text>
<line x1="232.00" y1="30.50" x2="255.00" y2="30.50" stroke="#000" stroke-width="1.3"/>
<line x1="232.00" y1="40.80" x2="255.00" y2="40.80" stroke="#8a8a8a" stroke-width="1.3"/>
<text x="215.50" y="424.95" font-size="9.3" text-anchor="start" font-weight="normal" fill="#000" >cfDNA V600</text>
<text x="215.50" y="434.75" font-size="9.3" text-anchor="start" font-weight="normal" fill="#000" >E</text>
<text x="215.50" y="445.05" font-size="9.3" text-anchor="start" font-weight="normal" fill="#000" >ND</text>
<line x1="232.00" y1="431.30" x2="255.00" y2="431.30" stroke="#000" stroke-width="1.3"/>
<line x1="232.00" y1="441.60" x2="255.00" y2="441.60" stroke="#8a8a8a" stroke-width="1.3"/>
</svg>
</body></html>
